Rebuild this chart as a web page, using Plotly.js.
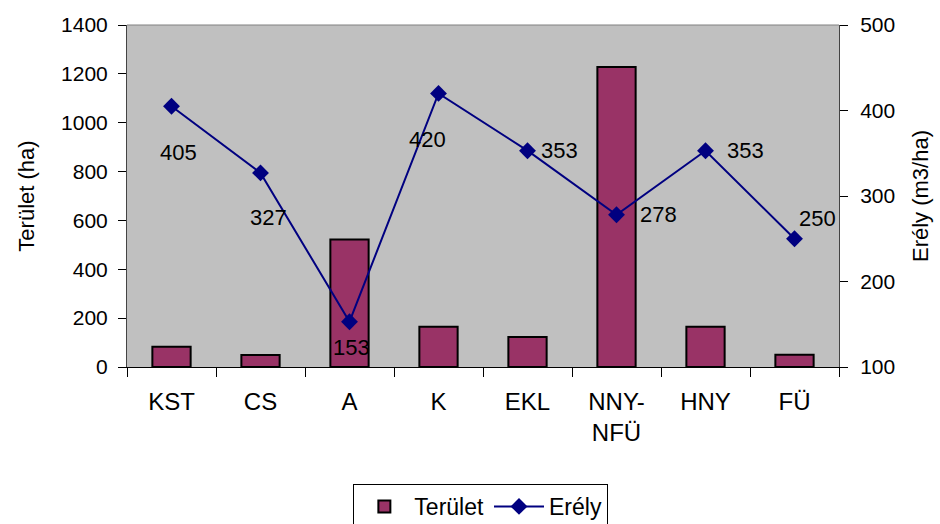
<!DOCTYPE html>
<html>
<head>
<meta charset="utf-8">
<script src="https://cdn.plot.ly/plotly-3.0.1.min.js"></script>
<style>html,body{margin:0;padding:0;background:#fff;}#chart{width:940px;height:524px;}</style>
</head>
<body>
<div id="chart"></div>
<script>
var categories = ["KST", "CS", "A", "K", "EKL", "NNY-<br>NFÜ", "HNY", "FÜ"];
var terulet = [83, 49, 522, 165, 123, 1228, 165, 50];
var erely = [405, 327, 153, 420, 353, 278, 353, 250];

// label offsets (px) for the Erély data labels
var labelDx = [7, 8, 2, -11, 32, 42, 40, 23];
var labelDy = [46, 45, 26, 46, 0, 0, 0, -20];

var FONT = "Liberation Sans, Arial, sans-serif";

var traces = [
  {
    type: "bar", name: "Terület", x: categories, y: terulet,
    marker: {color: "#993366", line: {color: "#000000", width: 2}},
    yaxis: "y"
  },
  {
    type: "scatter", mode: "lines+markers", name: "Erély", x: categories, y: erely,
    line: {color: "#000080", width: 2},
    marker: {symbol: "diamond", size: 13, color: "#000080"},
    yaxis: "y2"
  }
];

var annotations = erely.map(function (v, i) {
  return {
    x: categories[i], y: v, xref: "x", yref: "y2", text: String(v),
    showarrow: false, xshift: labelDx[i], yshift: -labelDy[i],
    font: {family: FONT, size: 22, color: "#000"}
  };
});

var layout = {
  width: 940, height: 524,
  margin: {l: 127, r: 101, t: 25, b: 157, autoexpand: false},
  paper_bgcolor: "#ffffff",
  plot_bgcolor: "#c0c0c0",
  font: {family: FONT, size: 22, color: "#000"},
  bargap: 0.57,
  showlegend: true,
  legend: {
    orientation: "h", x: 0.497, xanchor: "center", y: -0.342, yanchor: "top",
    bordercolor: "#000", borderwidth: 1, bgcolor: "#fff",
    itemwidth: 50,
    font: {family: FONT, size: 23, color: "#000"}
  },
  xaxis: {
    type: "category", showgrid: false, showline: true, linecolor: "#000", linewidth: 1,
    ticks: "outside", ticklen: 9, tickcolor: "#000", tickson: "boundaries",
    ticklabelstandoff: 13, tickfont: {size: 24}, zeroline: false, fixedrange: true,
    automargin: false
  },
  yaxis: {
    range: [0, 1400], dtick: 200, showgrid: false, zeroline: false,
    showline: true, linecolor: "#444", linewidth: 1,
    ticks: "outside", ticklen: 8, tickcolor: "#000", ticklabelstandoff: 6,
    title: {text: "Terület (ha)", font: {size: 22}, standoff: 20},
    tickfont: {size: 21}, automargin: false
  },
  yaxis2: {
    range: [100, 500], dtick: 100, overlaying: "y", side: "right",
    showgrid: false, zeroline: false, showline: true, linecolor: "#444", linewidth: 1,
    ticks: "outside", ticklen: 8, tickcolor: "#000", ticklabelstandoff: 8,
    title: {text: "Erély (m3/ha)", font: {size: 22}, standoff: 18},
    tickfont: {size: 21}, automargin: false
  },
  shapes: [
    {type: "line", xref: "paper", yref: "paper", x0: 0, x1: 1, y0: 1, y1: 1,
     line: {color: "#808080", width: 1}}
  ],
  annotations: annotations
};

Plotly.newPlot("chart", traces, layout, {displayModeBar: false, staticPlot: true});
</script>
</body>
</html>
